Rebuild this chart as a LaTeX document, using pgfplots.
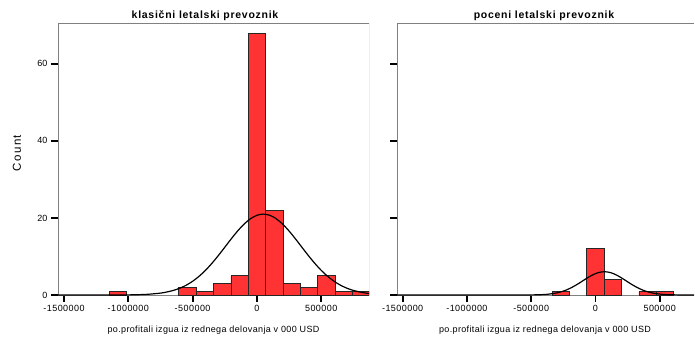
\documentclass[border=0pt]{standalone}
\usepackage{pgfplots}
\pgfplotsset{compat=1.18}
\usepackage{fontspec}
\setmainfont{Liberation Sans}

\definecolor{barred}{RGB}{255,51,51}
\definecolor{framegray}{RGB}{128,128,128}

% shared look of both histogram panels
\pgfplotsset{histo/.style={
  scale only axis, anchor=south west,
  ymin=0, ymax=70.6,
  axis line style={draw=none},
  tick align=outside, major tick length=7pt,
  tick style={black, line width=1.8pt},
  xtick pos=lower, ytick pos=left,
  ytick={0,20,40,60},
  xtick={-1500000,-1000000,-500000,0,500000},
  xticklabels={-1500000,-1000000,-500000,0,500000},
  scaled x ticks=false,
  xticklabel style={font=\fontsize{9}{10}\selectfont\addfontfeatures{LetterSpace=5}},
  yticklabel style={font=\fontsize{9}{10}\selectfont},
  /pgf/number format/assume math mode=true,
}}
\newcommand\titlefont{\bfseries\fontsize{10.5}{12}\selectfont\addfontfeatures{LetterSpace=7}}
\newcommand\labelfont{\fontsize{9}{10}\selectfont\addfontfeatures{LetterSpace=4}}

\begin{document}
\begin{tikzpicture}
\path[use as bounding box] (0pt,0pt) rectangle (695pt,338pt);

% carriers of the classic kind
\begin{axis}[histo, at={(58pt,43pt)}, width=311pt, height=272pt,
  xmin=-1546700, xmax=871600]
  \draw[framegray, line width=0.8pt] (rel axis cs:0,0) rectangle (rel axis cs:1,1);
  \addplot[ybar, bar width=135000, fill=barred, draw=black!85, line width=0.6pt]
    coordinates {(-1080000,1) (-540000,2) (-405000,1) (-270000,3) (-135000,5)
                 (0,68) (135000,22) (270000,3) (405000,2) (540000,5)
                 (675000,1) (810000,1)};
  \addplot[black, line width=1.2pt, smooth] coordinates {
    (-1600000,0) (-1250000,0) (-1150000,0.004) (-1050000,0.017) (-950000,0.06)
    (-850000,0.18) (-750000,0.49) (-700000,0.78) (-650000,1.19) (-600000,1.76)
    (-550000,2.54) (-500000,3.56) (-450000,4.85) (-400000,6.40) (-350000,8.22)
    (-300000,10.24) (-250000,12.39) (-200000,14.56) (-150000,16.61)
    (-100000,18.40) (-50000,19.80) (0,20.69) (50000,21) (100000,20.69)
    (150000,19.80) (200000,18.40) (250000,16.61) (300000,14.56)
    (350000,12.39) (400000,10.24) (450000,8.22) (500000,6.40) (550000,4.85)
    (600000,3.56) (650000,2.54) (700000,1.76) (750000,1.19) (800000,0.78)
    (850000,0.49) (900000,0.30)};
\end{axis}
\node[font=\titlefont] at (205pt,322pt) {klasični letalski prevoznik};
\node[font=\labelfont] at (213.5pt,8pt) {po.profitali izgua iz rednega delovanja v 000 USD};
\node[rotate=90, font=\fontsize{11.5}{13}\selectfont\addfontfeatures{LetterSpace=12}] at (17pt,185pt) {Count};

% low-cost carriers
\begin{axis}[histo, at={(397pt,43pt)}, width=297pt, height=272pt,
  xmin=-1544000, xmax=767000, yticklabels={}]
  \draw[framegray, line width=0.8pt] (rel axis cs:1,0) -- (rel axis cs:0,0)
    -- (rel axis cs:0,1) -- (rel axis cs:1,1);
  \addplot[ybar, bar width=135000, fill=barred, draw=black!85, line width=0.6pt]
    coordinates {(-270000,1) (0,12) (135000,4) (405000,1) (540000,1)};
  \addplot[black, line width=1.2pt, smooth] coordinates {
    (-1600000,0) (-730000,0) (-630000,0.001) (-530000,0.011) (-430000,0.076)
    (-380000,0.17) (-330000,0.37) (-280000,0.71) (-230000,1.25)
    (-180000,2.03) (-130000,3.00) (-80000,4.08) (-30000,5.08) (20000,5.79)
    (70000,6.05) (120000,5.79) (170000,5.08) (220000,4.08) (270000,3.00)
    (320000,2.03) (370000,1.25) (420000,0.71) (470000,0.37) (520000,0.17)
    (570000,0.076) (670000,0.011) (770000,0.001) (870000,0)};
\end{axis}
\node[font=\titlefont] at (544pt,322pt) {poceni letalski prevoznik};
\node[font=\labelfont] at (545pt,8pt) {po.profitali izgua iz rednega delovanja v 000 USD};
\end{tikzpicture}
\end{document}
